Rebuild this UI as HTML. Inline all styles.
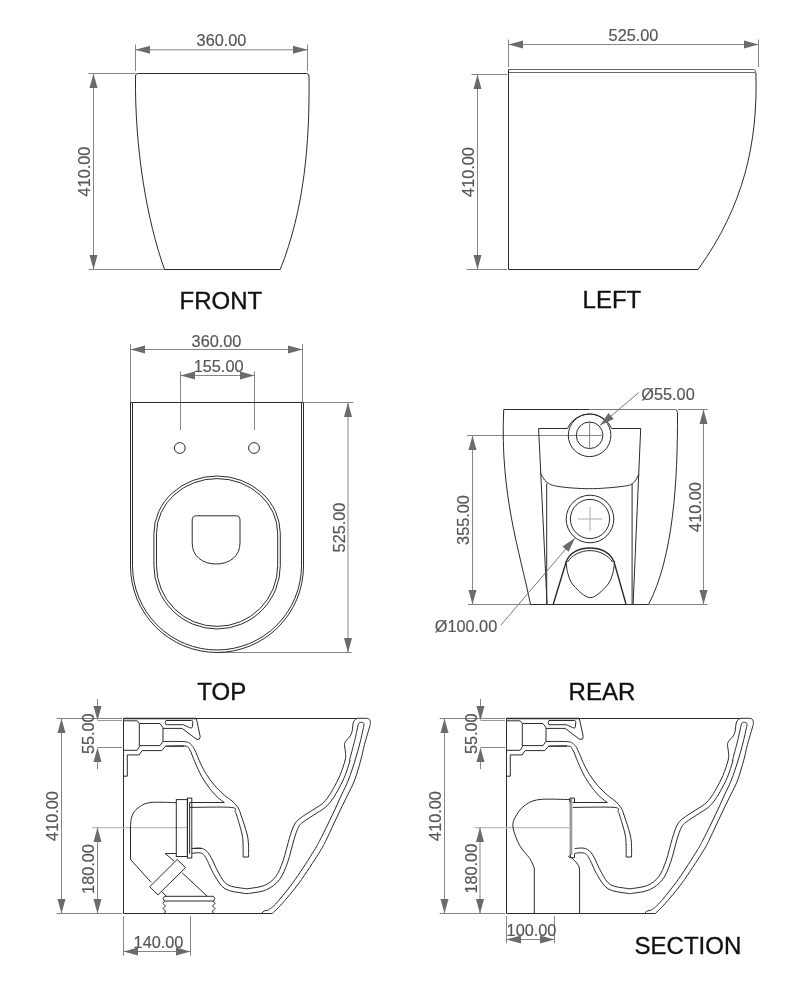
<!DOCTYPE html>
<html><head><meta charset="utf-8"><style>
html,body{margin:0;padding:0;background:#fff;}
svg{display:block;}
text{font-family:"Liberation Sans",sans-serif;}
svg{will-change:transform;}
</style></head><body>
<svg width="812" height="992" viewBox="0 0 812 992">
<rect width="812" height="992" fill="#fff"/>
<line x1="135.5" y1="49.8" x2="307.5" y2="49.8" stroke="#858585" stroke-width="1.0"/>
<path d="M135.5,49.8 L150,45.8 L150,53.8 Z" fill="#6b6b6b"/>
<path d="M307.5,49.8 L293,53.8 L293,45.8 Z" fill="#6b6b6b"/>
<text x="221.5" y="45.9" font-size="16.3" fill="#575757" stroke="#575757" stroke-width="0.2" text-anchor="middle">360.00</text>
<line x1="135.5" y1="44.5" x2="135.5" y2="71" stroke="#858585" stroke-width="1.0"/>
<line x1="307.5" y1="44.5" x2="307.5" y2="71" stroke="#858585" stroke-width="1.0"/>
<line x1="88.5" y1="73.5" x2="135.4" y2="73.5" stroke="#858585" stroke-width="1.0"/>
<line x1="88.5" y1="269.5" x2="165" y2="269.5" stroke="#8a8a8a" stroke-width="1.0"/>
<line x1="93.5" y1="73.5" x2="93.5" y2="269.5" stroke="#858585" stroke-width="1.0"/>
<path d="M93.5,73.5 L97.5,88 L89.5,88 Z" fill="#6b6b6b"/>
<path d="M93.5,269.5 L89.5,255 L97.5,255 Z" fill="#6b6b6b"/>
<text x="0" y="0" transform="translate(89.8,171.5) rotate(-90)" font-size="16.3" fill="#575757" stroke="#575757" stroke-width="0.2" text-anchor="middle">410.00</text>
<path d="M137.5,73.5 H306.5 Q308.8,73.6 309,76 C309.8,143.3 304.3,209.3 280.2,269.5 H164.5 C146.9,219.8 134.7,149.3 135.5,76 Q135.5,73.6 137.5,73.5 Z" stroke="#2b2b2b" stroke-width="1.0" fill="none"/>
<text x="220.9" y="309.3" font-size="24" fill="#111" stroke="#111" stroke-width="0.35" text-anchor="middle">FRONT</text>
<line x1="508.5" y1="44.5" x2="758.5" y2="44.5" stroke="#858585" stroke-width="1.0"/>
<path d="M508.5,44.5 L523,40.5 L523,48.5 Z" fill="#6b6b6b"/>
<path d="M758.5,44.5 L744,48.5 L744,40.5 Z" fill="#6b6b6b"/>
<text x="633.5" y="41.4" font-size="16.3" fill="#575757" stroke="#575757" stroke-width="0.2" text-anchor="middle">525.00</text>
<line x1="508.5" y1="39.5" x2="508.5" y2="67" stroke="#858585" stroke-width="1.0"/>
<line x1="758.5" y1="39.5" x2="758.5" y2="67" stroke="#858585" stroke-width="1.0"/>
<line x1="471.5" y1="74.5" x2="507" y2="74.5" stroke="#858585" stroke-width="1.0"/>
<line x1="466.7" y1="269.5" x2="507" y2="269.5" stroke="#858585" stroke-width="1.0"/>
<line x1="477.5" y1="74.5" x2="477.5" y2="269.5" stroke="#858585" stroke-width="1.0"/>
<path d="M477.5,74.5 L481.5,89 L473.5,89 Z" fill="#6b6b6b"/>
<path d="M477.5,269.5 L473.5,255 L481.5,255 Z" fill="#6b6b6b"/>
<text x="0" y="0" transform="translate(474.3,172) rotate(-90)" font-size="16.3" fill="#575757" stroke="#575757" stroke-width="0.2" text-anchor="middle">410.00</text>
<path d="M508.5,69.5 H753.5 Q755.8,69.8 755.8,72.5 H508.5" stroke="#666" stroke-width="1.0" fill="none"/>
<path d="M508.5,69.5 V269.5 H698 C744.2,205.9 758,141.5 755.9,73" stroke="#2b2b2b" stroke-width="1.0" fill="none"/>
<text x="611.9" y="308" font-size="24" fill="#111" stroke="#111" stroke-width="0.35" text-anchor="middle">LEFT</text>
<line x1="130.5" y1="349.5" x2="302.5" y2="349.5" stroke="#858585" stroke-width="1.0"/>
<path d="M130.5,349.5 L145,345.5 L145,353.5 Z" fill="#6b6b6b"/>
<path d="M302.5,349.5 L288,353.5 L288,345.5 Z" fill="#6b6b6b"/>
<text x="216.5" y="346.5" font-size="16.3" fill="#575757" stroke="#575757" stroke-width="0.2" text-anchor="middle">360.00</text>
<line x1="130.5" y1="344" x2="130.5" y2="402" stroke="#858585" stroke-width="1.0"/>
<line x1="302.5" y1="344" x2="302.5" y2="402" stroke="#858585" stroke-width="1.0"/>
<line x1="180.5" y1="375.5" x2="254.5" y2="375.5" stroke="#858585" stroke-width="1.0"/>
<path d="M180.5,375.5 L195,371.5 L195,379.5 Z" fill="#6b6b6b"/>
<path d="M254.5,375.5 L240,379.5 L240,371.5 Z" fill="#6b6b6b"/>
<text x="218.6" y="372.4" font-size="16.3" fill="#575757" stroke="#575757" stroke-width="0.2" text-anchor="middle">155.00</text>
<line x1="180.5" y1="371.4" x2="180.5" y2="430" stroke="#858585" stroke-width="1.0"/>
<line x1="254.5" y1="371.4" x2="254.5" y2="430" stroke="#858585" stroke-width="1.0"/>
<line x1="304" y1="402.5" x2="353.4" y2="402.5" stroke="#858585" stroke-width="1.0"/>
<line x1="217" y1="652.5" x2="351.7" y2="652.5" stroke="#858585" stroke-width="1.0"/>
<line x1="348" y1="402.5" x2="348" y2="652.5" stroke="#858585" stroke-width="1.0"/>
<path d="M348,402.5 L352,417 L344,417 Z" fill="#6b6b6b"/>
<path d="M348,652.5 L344,638 L352,638 Z" fill="#6b6b6b"/>
<text x="0" y="0" transform="translate(344.8,527.5) rotate(-90)" font-size="16.3" fill="#575757" stroke="#575757" stroke-width="0.2" text-anchor="middle">525.00</text>
<path d="M130.5,402.5 H303.5 V566 A86.5,86.5 0 0 1 130.5,566 Z" stroke="#2b2b2b" stroke-width="1.0" fill="none"/>
<path d="M132.5,403 V565.5 A84.5,84.5 0 0 0 301.5,565.5 V403" stroke="#2b2b2b" stroke-width="1.0" fill="none"/>
<circle cx="179.8" cy="448" r="5.4" stroke="#2b2b2b" fill="none"/>
<circle cx="254" cy="448" r="5.4" stroke="#2b2b2b" fill="none"/>
<path d="M153.9,533.6 A63.2,57.6 0 0 1 280.3,533.6 V565.7 A63.2,63.3 0 0 1 153.9,565.7 Z" stroke="#2b2b2b" stroke-width="1.0" fill="none"/>
<path d="M156.5,533.6 A60.6,55 0 0 1 277.7,533.6 V565.7 A60.6,60.7 0 0 1 156.5,565.7 Z" stroke="#2b2b2b" stroke-width="1.0" fill="none"/>
<path d="M196.6,515.8 H235.8 Q240,515.8 240,520 V543 C240,556 230,564 216.1,564 C202.2,564 192.2,556 192.2,543 V520 Q192.2,515.8 196.6,515.8 Z" stroke="#2b2b2b" stroke-width="1.0" fill="none"/>
<text x="221.7" y="699.6" font-size="24" fill="#111" stroke="#111" stroke-width="0.35" text-anchor="middle">TOP</text>
<line x1="678" y1="409.5" x2="707.5" y2="409.5" stroke="#858585" stroke-width="1.0"/>
<line x1="468" y1="604.5" x2="530" y2="604.5" stroke="#858585" stroke-width="1.0"/>
<line x1="649" y1="604.5" x2="707.5" y2="604.5" stroke="#858585" stroke-width="1.0"/>
<line x1="703.5" y1="409.5" x2="703.5" y2="604.5" stroke="#858585" stroke-width="1.0"/>
<path d="M703.5,409.5 L707.5,424 L699.5,424 Z" fill="#6b6b6b"/>
<path d="M703.5,604.5 L699.5,590 L707.5,590 Z" fill="#6b6b6b"/>
<text x="0" y="0" transform="translate(700.8,507) rotate(-90)" font-size="16.3" fill="#575757" stroke="#575757" stroke-width="0.2" text-anchor="middle">410.00</text>
<line x1="472.5" y1="435.5" x2="472.5" y2="604.5" stroke="#858585" stroke-width="1.0"/>
<path d="M472.5,435.5 L476.5,450 L468.5,450 Z" fill="#6b6b6b"/>
<path d="M472.5,604.5 L468.5,590 L476.5,590 Z" fill="#6b6b6b"/>
<text x="0" y="0" transform="translate(468.7,520) rotate(-90)" font-size="16.3" fill="#575757" stroke="#575757" stroke-width="0.2" text-anchor="middle">355.00</text>
<line x1="467" y1="435.5" x2="602" y2="435.5" stroke="#858585" stroke-width="1.0"/>
<path d="M589,409.5 H503.7 C499.9,495.4 519.6,550.3 530.5,604.5 H648.5 C673.3,557.3 677.8,480.5 677.5,412.7 Q677.5,410 675.5,409.5" stroke="#2b2b2b" stroke-width="1.0" fill="none"/>
<line x1="589" y1="409.5" x2="675.5" y2="409.5" stroke="#777" stroke-width="1.0"/>
<path d="M567.4,428.5 H538.6 L547.1,604.5" stroke="#2b2b2b" stroke-width="1.0" fill="none"/>
<path d="M611.8,428.5 H640.7 L633.1,604.5" stroke="#2b2b2b" stroke-width="1.0" fill="none"/>
<path d="M540.3,473 C541.43,474.58 543.82,480.22 547.1,482.5 C550.38,484.78 552.93,485.67 560,486.7 C567.07,487.73 579.5,488.7 589.5,488.7 C599.5,488.7 612.8,487.57 620,486.7 C627.2,485.83 629.53,485.62 632.7,483.5 C635.87,481.38 637.95,475.58 639,474" stroke="#2b2b2b" stroke-width="1.0" fill="none"/>
<line x1="546.7" y1="483.5" x2="546.7" y2="604.5" stroke="#2b2b2b" stroke-width="1.0"/>
<line x1="632.1" y1="483.5" x2="632.1" y2="604.5" stroke="#2b2b2b" stroke-width="1.0"/>
<circle cx="589.6" cy="435.3" r="21.3" stroke="#2b2b2b" fill="none"/>
<path d="M567.4,428.5 A24.2,24.2 0 0 1 611.8,428.5" stroke="#2b2b2b" fill="none"/>
<circle cx="589.6" cy="435.3" r="13.3" stroke="#2b2b2b" fill="none"/>
<line x1="589.6" y1="422" x2="589.6" y2="448.5" stroke="#858585" stroke-width="1.0"/>
<circle cx="590" cy="519" r="23.8" stroke="#2b2b2b" fill="none"/>
<circle cx="590" cy="519" r="19.6" stroke="#2b2b2b" fill="none"/>
<line x1="578" y1="519" x2="602" y2="519" stroke="#aaa" stroke-width="1.0"/>
<line x1="590" y1="507" x2="590" y2="531" stroke="#aaa" stroke-width="1.0"/>
<path d="M553.3,604 L566.2,561.8 C570,552 580,548 590,548 C600,548 610,552 614,561.8 L626,604" stroke="#2b2b2b" stroke-width="1.4" fill="none"/>
<path d="M567.5,562 C572,555 581,550.6 590,550.6 C599,550.6 608,555 612.6,562" stroke="#2b2b2b" stroke-width="1.0" fill="none"/>
<path d="M566,561.5 C566.33,563.58 566.67,569.92 568,574 C569.33,578.08 570.28,582.05 574,586 C577.72,589.95 584.87,597.7 590.3,597.7 C595.73,597.7 602.88,589.95 606.6,586 C610.32,582.05 611.27,578.08 612.6,574 C613.93,569.92 614.27,563.58 614.6,561.5" stroke="#2b2b2b" stroke-width="1.0" fill="none"/>
<line x1="638.7" y1="392.6" x2="600" y2="425.4" stroke="#777" stroke-width="1.0"/>
<path d="M600,425.4 L608.48,412.97 L613.65,419.08 Z" fill="#6b6b6b"/>
<line x1="575" y1="538.1" x2="501" y2="625" stroke="#777" stroke-width="1.0"/>
<path d="M575,538.1 L568.64,551.73 L562.55,546.55 Z" fill="#6b6b6b"/>
<text x="668" y="399.6" font-size="16.3" fill="#575757" stroke="#575757" stroke-width="0.2" text-anchor="middle">&#216;55.00</text>
<text x="466" y="631.7" font-size="16.3" fill="#575757" stroke="#575757" stroke-width="0.2" text-anchor="middle">&#216;100.00</text>
<text x="601.9" y="699.8" font-size="24" fill="#111" stroke="#111" stroke-width="0.35" text-anchor="middle">REAR</text>
<g><line x1="123.5" y1="718.5" x2="357.1" y2="718.5" stroke="#2b2b2b" stroke-width="1.0"/><line x1="123.5" y1="718.5" x2="196.3" y2="718.5" stroke="#2b2b2b" stroke-width="1.5"/><path d="M123.6,720.8 H137.2 L139.3,723.5 V746.9 L137.2,750.3 H123.6" stroke="#2b2b2b" stroke-width="1.0" fill="none"/><path d="M139.3,723.5 H160 L163,727.8 V741.3 L160,745.6 H139.3" stroke="#2b2b2b" stroke-width="1.0" fill="none"/><path d="M196.3,718.3 L200.2,736.5 Q200.5,740 196.9,739.5 L182.1,728.4 H163" stroke="#2b2b2b" stroke-width="1.0" fill="none"/><path d="M166,720.5 H191.5 Q193,720.5 192.8,722.5 L192.4,726.8 Q192,729 189.6,727.6 L183.3,724.7 H166 Q164,722.6 166,720.5 Z" stroke="#2b2b2b" stroke-width="1.0" fill="none"/><path d="M123.6,776.2 H127.3 V754.9 H139.2 L142.1,750.6 H161.8 L165.5,746.3 H184" stroke="#2b2b2b" stroke-width="1.0" fill="none"/><path d="M163,741.5 C166.65,741.53 180.27,741.22 184.9,741.7 C189.53,742.18 189.17,743.05 190.8,744.4 C192.43,745.75 193.07,746.6 194.7,749.8 C196.33,753 198.63,759.5 200.6,763.6 C202.57,767.7 204.2,770.8 206.5,774.4 C208.8,778 211.43,781.75 214.4,785.2 C217.37,788.65 221.35,792.47 224.3,795.1 C227.25,797.73 229.8,798.87 232.1,801 C234.4,803.13 236.62,805.57 238.1,807.9 C239.58,810.23 239.52,810.65 241,815 C242.48,819.35 245.75,829 247,834 C248.25,839 248.25,841.17 248.5,845 C248.75,848.83 248.5,855 248.5,857" stroke="#2b2b2b" stroke-width="1.0" fill="none"/><path d="M165.5,746.1 C168.73,746.08 180.85,745.38 184.9,746 C188.95,746.62 188.17,747.2 189.8,749.8 C191.43,752.4 192.73,757.17 194.7,761.6 C196.67,766.03 199.13,771.97 201.6,776.4 C204.07,780.83 206.87,784.75 209.5,788.2 C212.13,791.65 214.93,794.72 217.4,797.1 C219.87,799.48 223.15,801.6 224.3,802.5" stroke="#2b2b2b" stroke-width="1.0" fill="none"/><line x1="189.6" y1="802.5" x2="224.3" y2="802.5" stroke="#2b2b2b" stroke-width="1.0"/><path d="M189.6,807.4 C196.53,807.4 223.62,806.67 231.2,807.4 C238.78,808.13 234.2,810.53 235.1,811.8 C236,813.07 235.45,811.3 236.6,815 C237.75,818.7 240.92,829 242,834 C243.08,839 242.92,841.17 243.1,845 C243.28,848.83 243.1,855 243.1,857" stroke="#2b2b2b" stroke-width="1.0" fill="none"/><line x1="243.1" y1="857" x2="248.5" y2="857" stroke="#2b2b2b" stroke-width="1.0"/><path d="M191.8,848.5 C193.57,848.5 199.4,847.4 202.4,848.5 C205.4,849.6 207.1,851.03 209.8,855.1 C212.5,859.17 215.65,867.97 218.6,872.9 C221.55,877.83 223.3,882.12 227.5,884.7 C231.7,887.28 240.07,887.78 243.8,888.4 C247.53,889.02 246.43,888.92 249.9,888.4 C253.37,887.88 260.3,887.25 264.6,885.3 C268.9,883.35 272.62,880.8 275.7,876.7 C278.78,872.6 280.83,867.07 283.1,860.7 C285.37,854.33 287.45,844.45 289.3,838.5 C291.15,832.55 292.42,828.35 294.2,825 C295.98,821.65 297.18,820.73 300,818.4 C302.82,816.07 307.4,813.45 311.1,811 C314.8,808.55 319.37,806.03 322.2,803.7 C325.03,801.37 326.27,799.48 328.1,797 C329.93,794.52 331.23,792.38 333.2,788.8 C335.17,785.22 337.9,780.3 339.9,775.5 C341.9,770.7 344.28,763.93 345.2,760 C346.12,756.07 345.52,754.48 345.4,751.9 C345.28,749.32 344.4,746.35 344.5,744.5 C344.6,742.65 345.03,742.23 346,740.8 C346.97,739.37 349.27,737.55 350.3,735.9 C351.33,734.25 351.78,732.65 352.2,730.9 C352.62,729.15 352.5,727.03 352.8,725.4 C353.1,723.77 353.28,722.28 354,721.1 C354.72,719.92 356.58,718.77 357.1,718.3" stroke="#2b2b2b" stroke-width="1.0" fill="none"/><path d="M191.8,853.3 C193.29,853.25 198.41,852.26 200.75,853.01 C203.08,853.75 203.51,854.03 205.8,857.75 C208.09,861.48 211.28,870.19 214.48,875.36 C217.68,880.54 220.23,885.83 224.99,888.79 C229.74,891.75 238.75,892.41 243.02,893.14 C247.29,893.86 246.68,893.72 250.61,893.15 C254.54,892.57 261.76,891.93 266.58,889.67 C271.4,887.41 276.03,884.15 279.54,879.58 C283.04,875.02 285.23,868.92 287.62,862.31 C290.01,855.7 292.08,845.77 293.88,839.93 C295.69,834.08 296.91,830.23 298.44,827.26 C299.97,824.28 300.51,824.14 303.06,822.1 C305.61,820.05 310.05,817.45 313.75,815 C317.45,812.55 322.22,809.93 325.25,807.41 C328.29,804.88 329.94,802.57 331.96,799.85 C333.99,797.13 335.35,794.86 337.41,791.11 C339.47,787.36 342.28,782.27 344.33,777.35 C346.39,772.42 348.86,764.44 349.74,761.55 C350.62,758.66 348.79,763.46 349.6,760 C350.41,756.54 353.15,746.77 354.6,740.8 C356.05,734.83 357.68,726.97 358.3,724.2 C359,721.6 363.6,721.6 364.2,724.2" stroke="#2b2b2b" stroke-width="1.0" fill="none"/><path d="M364.2,724.2 C363.53,727.17 361.7,736.03 360.2,742 C358.7,747.97 357.17,753.67 355.2,760 C353.23,766.33 350.68,774.17 348.4,780 C346.12,785.83 343.78,790 341.5,795 C339.22,800 337.03,805 334.7,810 C332.37,815 329.95,820 327.5,825 C325.05,830 322.27,835.68 320,840 C317.73,844.32 318,844.37 313.9,850.9 C309.8,857.43 301.57,870.58 295.4,879.2 C289.23,887.82 281.42,897.47 276.9,902.6 C272.38,907.73 269.73,908.77 268.3,910 Q263.4,910.3 261.6,913.2" stroke="#2b2b2b" stroke-width="1.0" fill="none"/><path d="M357.1,718.3 H366.6 Q370.6,718.6 370.3,722.5  C370.25,722.98 370.97,721.73 370,725.4 C369.03,729.07 366.03,738.73 364.5,744.5 C362.97,750.27 362.43,754.08 360.8,760 C359.17,765.92 356.9,774.17 354.7,780 C352.5,785.83 350,790 347.6,795 C345.2,800 342.7,805 340.3,810 C337.9,815 335.55,820 333.2,825 C330.85,830 328.6,835.28 326.2,840 C323.8,844.72 323.32,846.15 318.8,853.3 C314.28,860.45 305.25,874.48 299.1,882.9 C292.95,891.32 286.32,898.75 281.9,903.8 C277.48,908.85 274.15,911.63 272.6,913.2" stroke="#2b2b2b" stroke-width="1.0" fill="none"/><line x1="123.5" y1="913.5" x2="272.6" y2="913.5" stroke="#2b2b2b" stroke-width="1.0"/><line x1="123.5" y1="718.5" x2="123.5" y2="913.5" stroke="#2b2b2b" stroke-width="1.0"/></g>
<g transform="translate(383,0)"><line x1="123.5" y1="718.5" x2="357.1" y2="718.5" stroke="#2b2b2b" stroke-width="1.0"/><line x1="123.5" y1="718.5" x2="196.3" y2="718.5" stroke="#2b2b2b" stroke-width="1.5"/><path d="M123.6,720.8 H137.2 L139.3,723.5 V746.9 L137.2,750.3 H123.6" stroke="#2b2b2b" stroke-width="1.0" fill="none"/><path d="M139.3,723.5 H160 L163,727.8 V741.3 L160,745.6 H139.3" stroke="#2b2b2b" stroke-width="1.0" fill="none"/><path d="M196.3,718.3 L200.2,736.5 Q200.5,740 196.9,739.5 L182.1,728.4 H163" stroke="#2b2b2b" stroke-width="1.0" fill="none"/><path d="M166,720.5 H191.5 Q193,720.5 192.8,722.5 L192.4,726.8 Q192,729 189.6,727.6 L183.3,724.7 H166 Q164,722.6 166,720.5 Z" stroke="#2b2b2b" stroke-width="1.0" fill="none"/><path d="M123.6,776.2 H127.3 V754.9 H139.2 L142.1,750.6 H161.8 L165.5,746.3 H184" stroke="#2b2b2b" stroke-width="1.0" fill="none"/><path d="M163,741.5 C166.65,741.53 180.27,741.22 184.9,741.7 C189.53,742.18 189.17,743.05 190.8,744.4 C192.43,745.75 193.07,746.6 194.7,749.8 C196.33,753 198.63,759.5 200.6,763.6 C202.57,767.7 204.2,770.8 206.5,774.4 C208.8,778 211.43,781.75 214.4,785.2 C217.37,788.65 221.35,792.47 224.3,795.1 C227.25,797.73 229.8,798.87 232.1,801 C234.4,803.13 236.62,805.57 238.1,807.9 C239.58,810.23 239.52,810.65 241,815 C242.48,819.35 245.75,829 247,834 C248.25,839 248.25,841.17 248.5,845 C248.75,848.83 248.5,855 248.5,857" stroke="#2b2b2b" stroke-width="1.0" fill="none"/><path d="M165.5,746.1 C168.73,746.08 180.85,745.38 184.9,746 C188.95,746.62 188.17,747.2 189.8,749.8 C191.43,752.4 192.73,757.17 194.7,761.6 C196.67,766.03 199.13,771.97 201.6,776.4 C204.07,780.83 206.87,784.75 209.5,788.2 C212.13,791.65 214.93,794.72 217.4,797.1 C219.87,799.48 223.15,801.6 224.3,802.5" stroke="#2b2b2b" stroke-width="1.0" fill="none"/><line x1="189.6" y1="802.5" x2="224.3" y2="802.5" stroke="#2b2b2b" stroke-width="1.0"/><path d="M189.6,807.4 C196.53,807.4 223.62,806.67 231.2,807.4 C238.78,808.13 234.2,810.53 235.1,811.8 C236,813.07 235.45,811.3 236.6,815 C237.75,818.7 240.92,829 242,834 C243.08,839 242.92,841.17 243.1,845 C243.28,848.83 243.1,855 243.1,857" stroke="#2b2b2b" stroke-width="1.0" fill="none"/><line x1="243.1" y1="857" x2="248.5" y2="857" stroke="#2b2b2b" stroke-width="1.0"/><path d="M191.8,848.5 C193.57,848.5 199.4,847.4 202.4,848.5 C205.4,849.6 207.1,851.03 209.8,855.1 C212.5,859.17 215.65,867.97 218.6,872.9 C221.55,877.83 223.3,882.12 227.5,884.7 C231.7,887.28 240.07,887.78 243.8,888.4 C247.53,889.02 246.43,888.92 249.9,888.4 C253.37,887.88 260.3,887.25 264.6,885.3 C268.9,883.35 272.62,880.8 275.7,876.7 C278.78,872.6 280.83,867.07 283.1,860.7 C285.37,854.33 287.45,844.45 289.3,838.5 C291.15,832.55 292.42,828.35 294.2,825 C295.98,821.65 297.18,820.73 300,818.4 C302.82,816.07 307.4,813.45 311.1,811 C314.8,808.55 319.37,806.03 322.2,803.7 C325.03,801.37 326.27,799.48 328.1,797 C329.93,794.52 331.23,792.38 333.2,788.8 C335.17,785.22 337.9,780.3 339.9,775.5 C341.9,770.7 344.28,763.93 345.2,760 C346.12,756.07 345.52,754.48 345.4,751.9 C345.28,749.32 344.4,746.35 344.5,744.5 C344.6,742.65 345.03,742.23 346,740.8 C346.97,739.37 349.27,737.55 350.3,735.9 C351.33,734.25 351.78,732.65 352.2,730.9 C352.62,729.15 352.5,727.03 352.8,725.4 C353.1,723.77 353.28,722.28 354,721.1 C354.72,719.92 356.58,718.77 357.1,718.3" stroke="#2b2b2b" stroke-width="1.0" fill="none"/><path d="M191.8,853.3 C193.29,853.25 198.41,852.26 200.75,853.01 C203.08,853.75 203.51,854.03 205.8,857.75 C208.09,861.48 211.28,870.19 214.48,875.36 C217.68,880.54 220.23,885.83 224.99,888.79 C229.74,891.75 238.75,892.41 243.02,893.14 C247.29,893.86 246.68,893.72 250.61,893.15 C254.54,892.57 261.76,891.93 266.58,889.67 C271.4,887.41 276.03,884.15 279.54,879.58 C283.04,875.02 285.23,868.92 287.62,862.31 C290.01,855.7 292.08,845.77 293.88,839.93 C295.69,834.08 296.91,830.23 298.44,827.26 C299.97,824.28 300.51,824.14 303.06,822.1 C305.61,820.05 310.05,817.45 313.75,815 C317.45,812.55 322.22,809.93 325.25,807.41 C328.29,804.88 329.94,802.57 331.96,799.85 C333.99,797.13 335.35,794.86 337.41,791.11 C339.47,787.36 342.28,782.27 344.33,777.35 C346.39,772.42 348.86,764.44 349.74,761.55 C350.62,758.66 348.79,763.46 349.6,760 C350.41,756.54 353.15,746.77 354.6,740.8 C356.05,734.83 357.68,726.97 358.3,724.2 C359,721.6 363.6,721.6 364.2,724.2" stroke="#2b2b2b" stroke-width="1.0" fill="none"/><path d="M364.2,724.2 C363.53,727.17 361.7,736.03 360.2,742 C358.7,747.97 357.17,753.67 355.2,760 C353.23,766.33 350.68,774.17 348.4,780 C346.12,785.83 343.78,790 341.5,795 C339.22,800 337.03,805 334.7,810 C332.37,815 329.95,820 327.5,825 C325.05,830 322.27,835.68 320,840 C317.73,844.32 318,844.37 313.9,850.9 C309.8,857.43 301.57,870.58 295.4,879.2 C289.23,887.82 281.42,897.47 276.9,902.6 C272.38,907.73 269.73,908.77 268.3,910 Q263.4,910.3 261.6,913.2" stroke="#2b2b2b" stroke-width="1.0" fill="none"/><path d="M357.1,718.3 H366.6 Q370.6,718.6 370.3,722.5  C370.25,722.98 370.97,721.73 370,725.4 C369.03,729.07 366.03,738.73 364.5,744.5 C362.97,750.27 362.43,754.08 360.8,760 C359.17,765.92 356.9,774.17 354.7,780 C352.5,785.83 350,790 347.6,795 C345.2,800 342.7,805 340.3,810 C337.9,815 335.55,820 333.2,825 C330.85,830 328.6,835.28 326.2,840 C323.8,844.72 323.32,846.15 318.8,853.3 C314.28,860.45 305.25,874.48 299.1,882.9 C292.95,891.32 286.32,898.75 281.9,903.8 C277.48,908.85 274.15,911.63 272.6,913.2" stroke="#2b2b2b" stroke-width="1.0" fill="none"/><line x1="123.5" y1="913.5" x2="272.6" y2="913.5" stroke="#2b2b2b" stroke-width="1.0"/><line x1="123.5" y1="718.5" x2="123.5" y2="913.5" stroke="#2b2b2b" stroke-width="1.0"/></g>
<line x1="56.7" y1="718.5" x2="122" y2="718.5" stroke="#858585" stroke-width="1.0"/>
<line x1="97.5" y1="720.5" x2="122" y2="720.5" stroke="#999" stroke-width="1.0"/>
<line x1="97.5" y1="747.5" x2="122" y2="747.5" stroke="#858585" stroke-width="1.0"/>
<line x1="56.7" y1="913.5" x2="122" y2="913.5" stroke="#858585" stroke-width="1.0"/>
<line x1="61.5" y1="718.5" x2="61.5" y2="913.5" stroke="#858585" stroke-width="1.0"/>
<path d="M61.5,718.5 L65.5,733 L57.5,733 Z" fill="#6b6b6b"/>
<path d="M61.5,913.5 L57.5,899 L65.5,899 Z" fill="#6b6b6b"/>
<text x="0" y="0" transform="translate(58.2,816) rotate(-90)" font-size="16.3" fill="#575757" stroke="#575757" stroke-width="0.2" text-anchor="middle">410.00</text>
<line x1="97.5" y1="699" x2="97.5" y2="710" stroke="#858585" stroke-width="1.0"/>
<line x1="97.5" y1="755" x2="97.5" y2="769.3" stroke="#858585" stroke-width="1.0"/>
<path d="M97.5,720.6 L93.5,706.1 L101.5,706.1 Z" fill="#6b6b6b"/>
<path d="M97.5,747.5 L101.5,762 L93.5,762 Z" fill="#6b6b6b"/>
<text x="0" y="0" transform="translate(94.3,733.7) rotate(-90)" font-size="16.3" fill="#575757" stroke="#575757" stroke-width="0.2" text-anchor="middle">55.00</text>
<line x1="92" y1="827.6" x2="187.4" y2="827.6" stroke="#bbb" stroke-width="1.3"/>
<line x1="97.5" y1="827.5" x2="97.5" y2="913.5" stroke="#858585" stroke-width="1.0"/>
<path d="M97.5,827.5 L101.5,842 L93.5,842 Z" fill="#6b6b6b"/>
<path d="M97.5,913.5 L93.5,899 L101.5,899 Z" fill="#6b6b6b"/>
<text x="0" y="0" transform="translate(94.2,869) rotate(-90)" font-size="16.3" fill="#575757" stroke="#575757" stroke-width="0.2" text-anchor="middle">180.00</text>
<line x1="123.5" y1="916.3" x2="123.5" y2="955.7" stroke="#858585" stroke-width="1.0"/>
<line x1="190.5" y1="916.3" x2="190.5" y2="955.7" stroke="#858585" stroke-width="1.0"/>
<line x1="123.5" y1="951.5" x2="190.5" y2="951.5" stroke="#858585" stroke-width="1.0"/>
<path d="M123.5,951.5 L138,947.5 L138,955.5 Z" fill="#6b6b6b"/>
<path d="M190.5,951.5 L176,955.5 L176,947.5 Z" fill="#6b6b6b"/>
<text x="158.5" y="947.8" font-size="16.3" fill="#575757" stroke="#575757" stroke-width="0.2" text-anchor="middle">140.00</text>
<path d="M176.3,802.6 C171.92,802.6 156.38,801.7 150,802.6 C143.62,803.5 141,805.77 138,808 C135,810.23 133.25,813 132,816 C130.75,819 130.75,824.33 130.5,826 V859.5 L151.2,882.4" stroke="#2b2b2b" stroke-width="1.0" fill="none"/>
<rect x="176.3" y="799.6" width="11.1" height="56.9" stroke="#2b2b2b" fill="none"/>
<rect x="187.4" y="798.1" width="4.4" height="59.9" stroke="#2b2b2b" fill="none"/>
<line x1="189.6" y1="802.5" x2="189.6" y2="853.6" stroke="#2b2b2b" stroke-width="1.0"/>
<path d="M165.2,853.5 H176.3 M165.2,853.5 L174,861" stroke="#2b2b2b" stroke-width="1.0" fill="none"/>
<path d="M149.7,886.8 L177.1,859.5 L185.6,867.6 L157.9,894.9 Z" stroke="#2b2b2b" stroke-width="1.0" fill="none"/>
<line x1="182.2" y1="872.8" x2="207.4" y2="896.4" stroke="#2b2b2b" stroke-width="1.0"/>
<line x1="161.6" y1="891.6" x2="166.6" y2="896.3" stroke="#2b2b2b" stroke-width="1.0"/>
<path d="M164.5,896.3 H213.5 Q216.3,898.6 213.5,901 H164.5 Q161.7,898.6 164.5,896.3 Z" stroke="#2b2b2b" stroke-width="1.0" fill="none"/>
<path d="M164.5,901 L163,903.5 L165.5,906 L163,908.5 L165.5,911 L164.5,913.4" stroke="#2b2b2b" stroke-width="1.0" fill="none"/>
<path d="M213.5,901 L215,903.5 L212.5,906 L215,908.5 L212.5,911 L213.5,913.4" stroke="#2b2b2b" stroke-width="1.0" fill="none"/>
<path d="M191.8,848.5 C193.5,848.5 200.3,848.5 202,848.5" stroke="#2b2b2b" stroke-width="1.0" fill="none"/>
<line x1="439.7" y1="718.5" x2="505" y2="718.5" stroke="#858585" stroke-width="1.0"/>
<line x1="480.5" y1="720.5" x2="505" y2="720.5" stroke="#999" stroke-width="1.0"/>
<line x1="480.5" y1="747.5" x2="505" y2="747.5" stroke="#858585" stroke-width="1.0"/>
<line x1="439.7" y1="913.5" x2="505" y2="913.5" stroke="#858585" stroke-width="1.0"/>
<line x1="444.5" y1="718.5" x2="444.5" y2="913.5" stroke="#858585" stroke-width="1.0"/>
<path d="M444.5,718.5 L448.5,733 L440.5,733 Z" fill="#6b6b6b"/>
<path d="M444.5,913.5 L440.5,899 L448.5,899 Z" fill="#6b6b6b"/>
<text x="0" y="0" transform="translate(441.4,816) rotate(-90)" font-size="16.3" fill="#575757" stroke="#575757" stroke-width="0.2" text-anchor="middle">410.00</text>
<line x1="480.5" y1="699" x2="480.5" y2="710" stroke="#858585" stroke-width="1.0"/>
<line x1="480.5" y1="755" x2="480.5" y2="769.3" stroke="#858585" stroke-width="1.0"/>
<path d="M480.5,720.6 L476.5,706.1 L484.5,706.1 Z" fill="#6b6b6b"/>
<path d="M480.5,747.5 L484.5,762 L476.5,762 Z" fill="#6b6b6b"/>
<text x="0" y="0" transform="translate(477.3,733.7) rotate(-90)" font-size="16.3" fill="#575757" stroke="#575757" stroke-width="0.2" text-anchor="middle">55.00</text>
<line x1="474.8" y1="827.6" x2="569.4" y2="827.6" stroke="#bbb" stroke-width="1.3"/>
<line x1="480" y1="827.5" x2="480" y2="913.5" stroke="#858585" stroke-width="1.0"/>
<path d="M480,827.5 L484,842 L476,842 Z" fill="#6b6b6b"/>
<path d="M480,913.5 L476,899 L484,899 Z" fill="#6b6b6b"/>
<text x="0" y="0" transform="translate(476.5,868.7) rotate(-90)" font-size="16.3" fill="#575757" stroke="#575757" stroke-width="0.2" text-anchor="middle">180.00</text>
<line x1="506.5" y1="916" x2="506.5" y2="943.2" stroke="#858585" stroke-width="1.0"/>
<line x1="554.5" y1="916" x2="554.5" y2="943.2" stroke="#858585" stroke-width="1.0"/>
<line x1="506.5" y1="939.5" x2="554.5" y2="939.5" stroke="#858585" stroke-width="1.0"/>
<path d="M506.5,939.5 L521,935.5 L521,943.5 Z" fill="#6b6b6b"/>
<path d="M554.5,939.5 L540,943.5 L540,935.5 Z" fill="#6b6b6b"/>
<text x="531.5" y="936" font-size="16.3" fill="#575757" stroke="#575757" stroke-width="0.2" text-anchor="middle">100.00</text>
<path d="M570.4,799.6 C565.17,799.6 546.73,798.53 539,799.6 C531.27,800.67 528,802.98 524,806 C520,809.02 516.82,814.05 515,817.7 C513.18,821.35 512.33,823.28 513.1,827.9 C513.87,832.52 516.83,840.32 519.6,845.4 C522.37,850.48 527.25,854.63 529.7,858.4 C532.15,862.17 533.53,866.4 534.3,868 V913.5" stroke="#2b2b2b" stroke-width="1.0" fill="none"/>
<path d="M569.4,855.6 L576.8,863 Q579.6,866 579.6,870 V913.5" stroke="#2b2b2b" stroke-width="1.0" fill="none"/>
<rect x="569.5" y="798.5" width="2.8" height="56" fill="#9a9a9a"/>
<path d="M569.9,802.5 V798.1 H574.5 V802.5" stroke="#2b2b2b" fill="none"/>
<path d="M570.3,853.7 V857.7 H574.5 V853.7" stroke="#2b2b2b" fill="none"/>
<line x1="568.3" y1="856.5" x2="570.3" y2="857.7" stroke="#2b2b2b" stroke-width="1.0"/>
<text x="687.9" y="953.8" font-size="24" fill="#111" stroke="#111" stroke-width="0.35" text-anchor="middle">SECTION</text>
</svg></body></html>
